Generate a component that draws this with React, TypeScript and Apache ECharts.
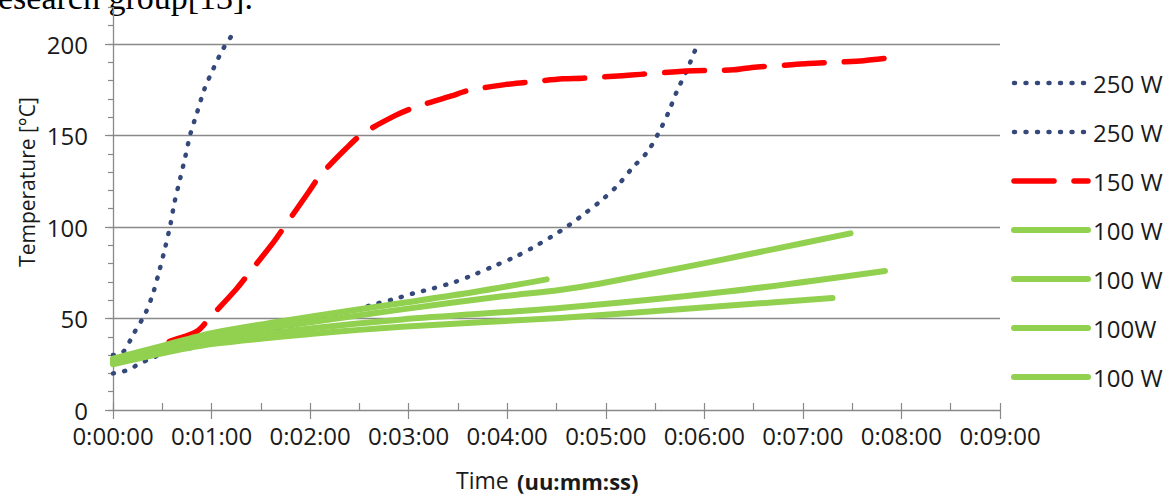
import React, { useEffect, useRef } from "react";
import * as echarts from "echarts";

// Legend labels (series order)
const legendLabels = ["250 W", "250 W", "150 W", "100 W", "100 W", "100W", "100 W"];
const seriesKeys = ["s1", "s2", "s3", "s4", "s5", "s6", "s7"];

// X ticks in seconds (0:00:00 .. 0:09:00), Y ticks in °C
const xMax = 540;
const yMax = 220;
const yLabelValues = [0, 50, 100, 150, 200];

// [time (s), temperature (°C)]
const w250a: number[][] = [
  [0, 30], [6, 31.5], [13, 42.4], [19.7, 52.8], [24.5, 64.1], [28.2, 76.1], [31.7, 88.5],
  [34.9, 101.1], [37.5, 113.7], [40.8, 126.1], [44, 138.4], [47.1, 150.8], [51, 162],
  [55.6, 175.2], [61.1, 186.5], [67.2, 197.6], [74.7, 207.7],
];
const w250b: number[][] = [
  [0, 20], [6, 21], [11.4, 22.8], [16.2, 25.5], [22.1, 27.7], [33.9, 32.2], [46.9, 33.7],
  [60, 37], [75, 40], [89.5, 42.8], [102.7, 44.6], [108.8, 45.9], [130, 51], [145, 54],
  [157.5, 57.4], [170.6, 60.5], [182.8, 63.7], [195, 66.5], [207.6, 69.8], [219.3, 73.8],
  [232.1, 78.7], [244.1, 83.4], [255.9, 88.9], [266.9, 94.7], [277.8, 101.1], [287.8, 107.8],
  [298.1, 115.1], [307.6, 123.1], [316.1, 132.2], [325.3, 141], [332, 151.2], [338.1, 162.5],
  [343.2, 174], [349.3, 185.5], [355.7, 199.5],
];
const w150: number[][] = [
  [0, 27], [20, 31], [33, 37], [51, 43], [59, 50.5], [75, 66], [83, 75], [98, 92], [105, 101],
  [119, 119], [126, 128], [142, 143], [152, 151], [172, 161], [184, 165.5], [206, 171.6],
  [216, 174.5], [240, 178], [251, 179], [274, 181], [286, 181.3], [310, 182.7], [321, 183.4],
  [343, 184.9], [354, 185.4], [378, 185.9], [389, 187.2], [411, 188.5], [423, 189.4],
  [446, 190.3], [457, 190.9], [471, 192.2],
];
const w100a: number[][] = [
  [0, 28], [30, 35], [60, 42], [120, 51], [176, 58.5], [220, 64.5], [264, 71.4],
];
const w100b: number[][] = [
  [0, 27], [30, 34], [60, 40], [120, 48], [176, 55], [236, 62], [272, 65.6], [296, 69],
  [359, 80], [400, 87.5], [449, 96.5],
];
const w100c: number[][] = [
  [0, 26], [30, 32], [60, 37.5], [120, 44.5], [176, 49.5], [272, 55.7], [374, 64.7], [470, 76],
];
const w100d: number[][] = [
  [0, 25], [30, 31], [60, 36], [120, 41.5], [176, 45.5], [272, 50.3], [353, 55.6], [438, 61.2],
];

export default function App() {
  const ref = useRef<HTMLDivElement>(null);
  useEffect(() => {
    const chart = echarts.init(ref.current!, null, { renderer: "svg" });
    const font = '"Open Sans", sans-serif';
    const gray = "#898989";
    const txt = "#1a1a1a";
    const blue = "#34487a";
    const red = "#ff0000";
    const green = "#92d050";
    const dots = [1, 10.5];
    const mk = (name: string, data: number[][], color: string, width: number, type: any) => ({
      name,
      type: "line",
      data,
      symbol: "none",
      showSymbol: false,
      smooth: 0.3,
      lineStyle: { color, width, type, cap: "round", join: "round" },
      itemStyle: { color },
    });
    chart.setOption({
      animation: false,
      grid: { left: 113, right: 170, top: 7.4, bottom: 86 },
      xAxis: [
        {
          type: "value",
          min: 0,
          max: xMax,
          interval: 60,
          axisLine: { show: true, lineStyle: { color: gray, width: 1.3 } },
          axisTick: { show: true, length: 9, lineStyle: { color: gray, width: 1.2 } },
          axisLabel: {
            formatter: (v: number) => `0:0${Math.round(v / 60)}:00`,
            fontSize: 24,
            fontFamily: font,
            color: txt,
            margin: 13,
          },
          splitLine: { show: false },
        },
        {
          type: "value",
          min: 0,
          max: xMax,
          interval: 30,
          position: "bottom",
          offset: 0,
          axisLine: { show: false },
          axisTick: { show: true, inside: true, length: 7, lineStyle: { color: gray, width: 1.2 } },
          axisLabel: { show: false },
          splitLine: { show: false },
        },
      ],
      yAxis: [
        {
          type: "value",
          min: 0,
          max: yMax,
          interval: 50,
          axisLine: { show: true, lineStyle: { color: gray, width: 1.3 } },
          axisTick: { show: true, length: 8, lineStyle: { color: gray, width: 1.2 } },
          axisLabel: {
            fontSize: 24,
            fontFamily: font,
            color: txt,
            margin: 25,
            showMaxLabel: false,
            formatter: (v: number) => (yLabelValues.includes(v) ? String(v) : ""),
          },
          splitLine: {
            show: true,
            showMinLine: false,
            showMaxLine: false,
            lineStyle: { color: gray, width: 1.3 },
          },
        },
        {
          type: "value",
          min: 0,
          max: yMax,
          interval: 10,
          position: "left",
          offset: 0,
          axisLine: { show: false },
          axisTick: { show: true, length: 5, lineStyle: { color: gray, width: 1.2 } },
          axisLabel: { show: false },
          splitLine: { show: false },
        },
      ],
      legend: {
        orient: "vertical",
        left: 1006,
        top: 66,
        itemWidth: 74,
        itemHeight: 24,
        itemGap: 25,
        data: seriesKeys,
        formatter: (name: string) => legendLabels[seriesKeys.indexOf(name)],
        itemStyle: { color: "transparent", borderWidth: 0, opacity: 0 },
        lineStyle: { width: "inherit", type: "inherit", cap: "inherit", opacity: 1 },
        textStyle: { fontSize: 24, fontFamily: font, color: txt, lineHeight: 24 },
      },
      graphic: [
        {
          type: "text",
          x: 27,
          y: 182,
          rotation: Math.PI / 2,
          style: {
            text: "Temperature [°C]",
            font: `21px ${font}`,
            fill: txt,
            align: "center",
            verticalAlign: "middle",
          },
        },
        {
          type: "text",
          x: 456,
          y: 480,
          style: {
            text: "Time",
            font: `23px ${font}`,
            fill: txt,
            align: "left",
            verticalAlign: "middle",
          },
        },
        {
          type: "text",
          x: 517,
          y: 481,
          style: {
            text: "(uu:mm:ss)",
            font: `bold 22px ${font}`,
            fill: txt,
            align: "left",
            verticalAlign: "middle",
          },
        },
        {
          type: "text",
          x: -2,
          y: 14,
          style: {
            text: "esearch group[13].",
            font: '34px "Liberation Serif", serif',
            fill: "#000",
            align: "left",
            verticalAlign: "bottom",
          },
        },
      ],
      series: [
        mk(seriesKeys[0], w250a, blue, 4.5, dots),
        mk(seriesKeys[1], w250b, blue, 4.5, dots),
        mk(seriesKeys[2], w150, red, 5.5, [40, 20]),
        mk(seriesKeys[3], w100a, green, 6, "solid"),
        mk(seriesKeys[4], w100b, green, 6, "solid"),
        mk(seriesKeys[5], w100c, green, 6, "solid"),
        mk(seriesKeys[6], w100d, green, 6, "solid"),
      ],
    });
    return () => chart.dispose();
  }, []);
  return (
    <div
      ref={ref}
      style={{ position: "absolute", left: 0, top: 0, width: 1170, height: 496, background: "#fff" }}
    />
  );
}
